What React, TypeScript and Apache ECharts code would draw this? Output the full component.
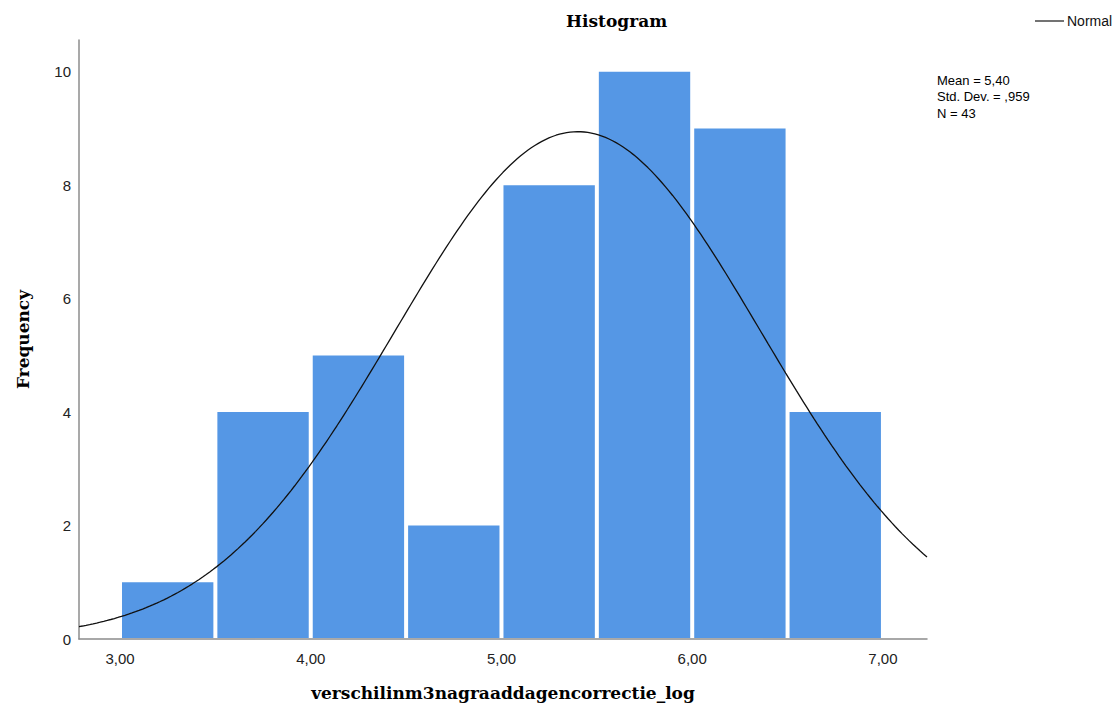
import React, { useEffect, useRef } from "react";
import * as echarts from "echarts";

// Histogram bins (lower edge, upper edge) and their counts
const binStarts = [3.0, 3.5, 4.0, 4.5, 5.0, 5.5, 6.0, 6.5];
const binWidth = 0.5;
const frequencies = [1, 4, 5, 2, 8, 10, 9, 4];

// Summary statistics shown in the annotation
const meanValue = 5.4;
const stdDev = 0.959;
const sampleSize = 43;

// Axis ticks
const xTicks = [3, 4, 5, 6, 7];
const yTicks = [0, 2, 4, 6, 8, 10];

const xMin = 2.785;
const xMax = 7.231;
const yMax = 10.56;

const fmtComma = (v: number, d: number) => v.toFixed(d).replace(".", ",");

// Normal curve scaled to frequency using the stated mean, SD, N and bin width
function normalCurve(): number[][] {
  const pts: number[][] = [];
  const steps = 240;
  for (let i = 0; i <= steps; i++) {
    const x = xMin + ((xMax - xMin) * i) / steps;
    const z = (x - meanValue) / stdDev;
    const y =
      (sampleSize * binWidth * Math.exp(-0.5 * z * z)) /
      (stdDev * Math.sqrt(2 * Math.PI));
    pts.push([x, y]);
  }
  return pts;
}

const serifBold = {
  fontFamily: "DejaVu Serif",
  fontWeight: "bold",
  fontSize: 17,
  color: "#000",
};

export default function App() {
  const ref = useRef<HTMLDivElement>(null);

  useEffect(() => {
    if (!ref.current) return;
    const chart = echarts.init(ref.current, undefined, { renderer: "svg" });

    const barData = binStarts.map((s, i) => [s, s + binWidth, frequencies[i]]);

    chart.setOption({
      animation: false,
      backgroundColor: "#ffffff",
      title: {
        text: "Histogram",
        left: 561,
        top: 7,
        textStyle: serifBold,
      },
      legend: {
        left: 1030,
        top: 9,
        itemWidth: 29,
        itemHeight: 1.5,
        itemGap: 4,
        icon: "rect",
        textStyle: {
          fontFamily: "Liberation Sans",
          fontSize: 14,
          color: "#111",
          padding: [0, 0, 0, -2],
        },
        data: [{ name: "Normal", itemStyle: { color: "#444" } }],
      },
      graphic: [
        {
          type: "text",
          left: 937,
          top: 72,
          style: {
            text: `Mean = ${fmtComma(meanValue, 2)}\nStd. Dev. = ${fmtComma(stdDev, 3).replace(/^0/, "")}\nN = ${sampleSize}`,
            font: "13px 'Liberation Sans'",
            lineHeight: 16.5,
            fill: "#000",
          },
        },
      ],
      grid: { left: 79, right: 190, top: 40, bottom: 74 },
      xAxis: {
        type: "value",
        min: xMin,
        max: xMax,
        name: "verschilinm3nagraaddagencorrectie_log",
        nameLocation: "middle",
        nameGap: 45,
        nameTextStyle: serifBold,
        axisLine: { show: true, onZero: false, lineStyle: { color: "#8c8c8c", width: 1.5 } },
        axisTick: { show: false },
        splitLine: { show: false },
        axisLabel: {
          customValues: xTicks,
          formatter: (v: number) => fmtComma(v, 2),
          fontFamily: "Liberation Sans",
          fontSize: 15,
          color: "#222",
          margin: 12,
        },
      },
      yAxis: {
        type: "value",
        min: 0,
        max: yMax,
        name: "Frequency",
        nameLocation: "middle",
        nameGap: 48,
        nameTextStyle: serifBold,
        axisLine: { show: true, lineStyle: { color: "#8c8c8c", width: 1.5 } },
        axisTick: { show: false },
        splitLine: { show: false },
        axisLabel: {
          customValues: yTicks,
          fontFamily: "Liberation Sans",
          fontSize: 15,
          color: "#222",
          margin: 8,
        },
      },
      series: [
        {
          type: "custom",
          name: "bins",
          data: barData,
          encode: { x: [0, 1], y: 2 },
          renderItem: (params: any, api: any) => {
            const p0 = api.coord([api.value(0), api.value(2)]);
            const p1 = api.coord([api.value(1), 0]);
            const gap = 2;
            return {
              type: "rect",
              shape: {
                x: p0[0] + gap,
                y: p0[1],
                width: p1[0] - p0[0] - gap * 2,
                height: p1[1] - p0[1] - 1,
              },
              style: { fill: "#5597e5" },
            };
          },
          z: 2,
        },
        {
          type: "line",
          name: "Normal",
          data: normalCurve(),
          showSymbol: false,
          symbol: "none",
          smooth: false,
          lineStyle: { color: "#111", width: 1.3 },
          itemStyle: { color: "#111" },
          z: 3,
        },
      ],
    });

    return () => chart.dispose();
  }, []);

  return (
    <div
      ref={ref}
      style={{ position: "fixed", left: 0, top: 0, width: 1117, height: 713 }}
    />
  );
}
